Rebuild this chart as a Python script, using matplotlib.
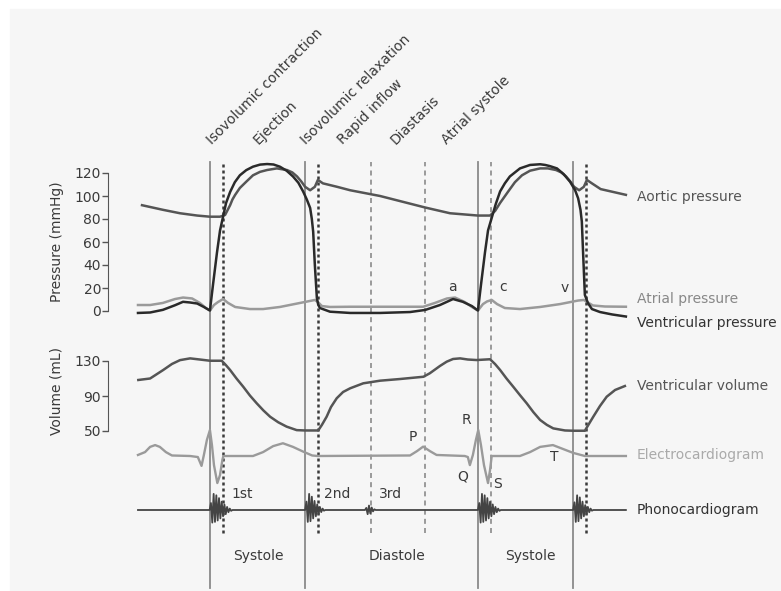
import numpy as np
import matplotlib.pyplot as plt
from matplotlib.patches import Rectangle

# время в мс, 0 = начало записи
aortic_t = [6, 68, 119, 170, 208, 238, 253, 268, 275, 283, 297, 318, 336, 357, 378, 407, 437,
            453, 467, 480, 491, 506, 520, 529, 544, 586, 625, 714, 848, 922, 1005, 1041, 1056,
            1071, 1094, 1115, 1136, 1160, 1190, 1213, 1237, 1253, 1267, 1280, 1291, 1306,
            1320, 1329, 1344, 1370, 1445]
aortic_p = [92, 88, 85, 83, 82, 82, 83.5, 92, 97, 101, 107, 113, 118, 121, 122.6, 124, 122.6,
            120.5, 117, 112.5, 108, 105, 108, 114, 111, 108, 105, 100, 90, 85, 83, 83, 87,
            94, 103.5, 112, 118, 122, 124, 124, 122.6, 120.5, 117, 112.5, 108, 105,
            108, 114, 111, 106, 101]

vent_t = [-6, 30, 68, 104, 128, 149, 170, 190, 208, 217, 229, 238, 247, 256, 268, 282, 297,
          316, 336, 357, 378, 397, 416, 436, 455, 471, 485, 496, 506, 511, 515, 520, 526, 530,
          535, 565, 625, 714, 803, 848, 892, 931, 960, 987, 1005, 1014, 1026, 1035, 1046,
          1058, 1071, 1085, 1100, 1130, 1160, 1190, 1205, 1219, 1240, 1260, 1279, 1294, 1303,
          1310, 1314, 1318, 1323, 1332, 1344, 1368, 1404, 1445]
vent_p = [-1.7, -1.3, 1, 5, 8, 7.4, 6.5, 3.5, 0.4, 22.6, 51, 70, 82, 94, 103.5, 112, 118,
          122.5, 125.5, 127.3, 127.8, 127.4, 125.5, 122, 117, 111.5, 104, 97, 89.6, 80, 69, 40,
          11.3, 5.5, 2.6, -0.6, -1.7, -1.7, -0.9, 0.9, 5.2, 10.4, 8, 4.3, 0.4, 22.6, 51, 70,
          81, 93, 104, 111, 117, 124, 127, 127.6, 127, 126, 124, 119, 112.4, 105, 98,
          88, 77.7, 48.7, 14, 7, 1.7, -0.9, -3, -4.8]

atrial_t = [-6, 30, 68, 104, 128, 155, 178, 196, 208, 220, 232, 247, 262, 283, 327, 366, 416,
            476, 520, 529, 541, 565, 625, 714, 842, 877, 913, 937, 966, 987, 1005, 1020, 1032,
            1046, 1062, 1085, 1130, 1190, 1249, 1303, 1320, 1332, 1347, 1383, 1445]
atrial_p = [5.2, 5.2, 7, 10.4, 11.7, 10.9, 7, 2.6, 0.4, 5.2, 7.8, 10.4, 7, 3.5, 1.7, 1.7, 3.5,
            7, 9.6, 7.8, 4.3, 3.5, 3.7, 3.7, 3.7, 7, 10.9, 11.7, 7.8, 3.5, 0.4, 6, 8.3,
            9.6, 6, 2.6, 1.7, 3.5, 6, 9.1, 9.6, 7.4, 4.8, 3.9, 3.7]

volume_t = [-5, 30, 69, 95, 119, 149, 178, 208, 243, 255, 268, 287, 307, 327, 347, 367, 387,
            411, 436, 466, 491, 530, 541, 555, 568, 585, 604, 625, 664, 714, 773, 843, 862,
            892, 912, 931, 952, 975, 1001, 1041, 1056, 1071, 1090, 1110, 1130, 1150, 1170,
            1190, 1210, 1229, 1264, 1289, 1323, 1335, 1348, 1368, 1388, 1413, 1442]
volume_ml = [108.3, 110, 119.7, 126.6, 131, 133, 131.7, 130.3, 130.3, 125.5, 119.7, 110,
             100.6, 90.5, 81.7, 73.5, 66.3, 60, 55, 51, 50.6, 50.6, 57, 66.3, 77.4, 87.4, 94.6,
             98.8, 104.5, 107.5, 109.4, 112, 116, 124.3, 129.2, 132.3, 133, 131.7, 131.1, 132,
             126.5, 119.7, 110, 100.6, 91, 81.7, 71.5, 62.6, 57, 53, 50.6, 50.3, 50.3, 58,
             66.3, 78.6, 89.2, 96.9, 101.4]

ecg_t = [-6, 15, 30, 45, 59, 77, 95, 149, 172, 183, 190, 199, 208, 214, 220, 230, 238, 245,
         248, 336, 366, 396, 425, 455, 485, 512, 529, 803, 824, 842, 862, 882, 966, 975, 981,
         990, 999, 1006, 1014, 1023, 1035, 1041, 1046, 1130, 1160, 1190, 1228, 1258, 1288,
         1323, 1445]
ecg_mv = [0.04, 0.15, 0.35, 0.42, 0.35, 0.15, 0.02, 0, -0.04, -0.38, 0.04, 0.62, 1.0, 0.42,
          -0.35, -1.04, -0.73, -0.15, 0, 0, 0.15, 0.38, 0.49, 0.35, 0.17, 0.02, 0, 0.02, 0.19,
          0.36, 0.19, 0.04, 0, -0.04, -0.35, 0.04, 0.62, 1.0, 0.42, -0.35, -1.04, -0.54, 0, 0,
          0.15, 0.35, 0.42, 0.27, 0.12, 0, 0]

# тоны сердца: начало и отсчёты через 4 мс
sound_start = [207, 491, 669, 1005, 1288]
sound_bursts = [
    [0, 0.5, -0.9, 1.15, -0.85, 1.05, -0.75, 0.85, -0.6, 0.6, -0.45, 0.4, -0.3, 0.22, -0.16, 0.1, -0.06, 0],
    [0, 0.6, -0.85, 1.15, -0.8, 0.95, -0.6, 0.65, -0.45, 0.4, -0.3, 0.22, -0.15, 0.1, -0.05, 0],
    [0, 0.15, -0.3, 0.32, -0.25, 0.18, -0.1, 0.05, 0],
    [0, 0.5, -0.9, 1.15, -0.85, 1.05, -0.75, 0.85, -0.6, 0.6, -0.45, 0.4, -0.3, 0.22, -0.16, 0.1, -0.06, 0],
    [0, 0.55, -0.85, 1.05, -0.8, 0.9, -0.6, 0.6, -0.45, 0.35, -0.3, 0.22, -0.16, 0.1, -0.05, 0],
]
sound_range = (-6, 1445)

solid_events = [207, 491, 1005, 1288]
dark_dotted = [247, 529, 1326]
light_dashed = [687, 848, 1044]

phases = ["Isovolumic contraction", "Ejection", "Isovolumic relaxation",
          "Rapid inflow", "Diastasis", "Atrial systole"]
phase_t = [214, 351, 493, 604, 759, 912]

W, H = 781, 591
PX_PER_MS = 0.33625
X0 = 140
LEFT, RIGHT = 108, 630
XLIM = ((LEFT - X0) / PX_PER_MS, (RIGHT - X0) / PX_PER_MS)
LABEL_T = (637 - X0) / PX_PER_MS

fig = plt.figure(figsize=(W / 100, H / 100), dpi=100)
fig.patch.set_facecolor('white')
fig.patches.append(Rectangle((10 / W, 0), 1, 1 - 9 / H, transform=fig.transFigure,
                             color='#f6f6f6', zorder=-10))


def add_axes_px(top, bottom):
    ax = fig.add_axes([LEFT / W, 1 - bottom / H, (RIGHT - LEFT) / W, (bottom - top) / H])
    ax.set_facecolor('none')
    ax.set_xlim(*XLIM)
    return ax


txt = dict(fontsize=10, color='#3a3a3a')

# фон: вертикальные линии и подписи фаз
ax_bg = add_axes_px(0, H)
ax_bg.set_ylim(0, 1)
ax_bg.axis('off')
for t in solid_events:
    ax_bg.axvline(t, ymin=1 - 588 / H, ymax=1 - 162 / H, color='#8a8a8a', lw=1.3)
for t in dark_dotted:
    ax_bg.axvline(t, ymin=1 - 533 / H, ymax=1 - 162 / H, color='#3a3a3a', lw=1.8,
                  ls=(0, (1.2, 1.2)))
for t in light_dashed:
    ax_bg.axvline(t, ymin=1 - 533 / H, ymax=1 - 162 / H, color='#8a8a8a', lw=1.2,
                  ls=(0, (3, 2.5)))
for name, t in zip(phases, phase_t):
    ax_bg.text(t, 1 - 145 / H, name, rotation=45, rotation_mode='anchor',
               ha='left', va='baseline', **txt)
for name, px in [("Systole", 258), ("Diastole", 397), ("Systole", 530)]:
    ax_bg.text((px - X0) / PX_PER_MS, 1 - 556 / H, name, ha='center', va='center', **txt)

# давление
ax_p = add_axes_px(150, 330)
ax_p.set_ylim(-(330 - 311) / 1.15, (311 - 150) / 1.15)
ax_p.plot(atrial_t, atrial_p, color='#9a9a9a', lw=1.8)
ax_p.plot(aortic_t, aortic_p, color='#555', lw=1.8)
ax_p.plot(vent_t, vent_p, color='#2a2a2a', lw=1.8)
ax_p.set_yticks([0, 20, 40, 60, 80, 100, 120])
ax_p.set_ylabel("Pressure (mmHg)", **txt)
ax_p.yaxis.set_label_coords((64 - LEFT) / (RIGHT - LEFT), (330 - 242) / 180)
ax_p.text(928, 21, "a", ha='center', va='center', **txt)
ax_p.text(1079, 21, "c", ha='center', va='center', **txt)
ax_p.text(1264, 20, "v", ha='center', va='center', **txt)
ax_p.text(LABEL_T, 99, "Aortic pressure", va='center', fontsize=10, color='#555')
ax_p.text(LABEL_T, 10.4, "Atrial pressure", va='center', fontsize=10, color='#888')
ax_p.text(LABEL_T, -10.4, "Ventricular pressure", va='center', fontsize=10, color='#333')

# объём
ax_v = add_axes_px(340, 440)
ax_v.set_ylim(130 - (440 - 361) / 0.875, 130 + (361 - 340) / 0.875)
ax_v.plot(volume_t, volume_ml, color='#555', lw=1.8)
ax_v.set_yticks([50, 90, 130])
ax_v.set_ylabel("Volume (mL)", **txt)
ax_v.yaxis.set_label_coords((64 - LEFT) / (RIGHT - LEFT), (440 - 391) / 100)
ax_v.text(LABEL_T, 101.4, "Ventricular volume", va='center', fontsize=10, color='#555')

for ax, lo, hi in [(ax_p, 0, 120), (ax_v, 50, 130)]:
    for side in ['top', 'right', 'bottom']:
        ax.spines[side].set_visible(False)
    ax.spines['left'].set_bounds(lo, hi)
    ax.spines['left'].set_color('#555')
    ax.tick_params(axis='y', length=4, width=1, color='#555', pad=1, labelsize=10,
                   labelcolor='#3a3a3a')
    ax.set_xticks([])

# ЭКГ
ax_e = add_axes_px(415, 495)
ax_e.set_ylim(-(495 - 456) / 26, (456 - 415) / 26)
ax_e.axis('off')
ax_e.plot(ecg_t, ecg_mv, color='#9a9a9a', lw=1.7)
for s, t, y in [("P", 812, 0.73), ("R", 972, 1.38), ("Q", 960, -0.8),
                ("S", 1062, -1.08), ("T", 1231, -0.04)]:
    ax_e.text(t, y, s, ha='center', va='center', **txt)
ax_e.text(LABEL_T, 0.04, "Electrocardiogram", va='center', fontsize=10, color='#aaa')

# фонокардиограмма
ax_s = add_axes_px(485, 535)
ax_s.set_ylim(-25 / 14, 25 / 14)
ax_s.axis('off')
snd_t, snd_a = [sound_range[0]], [0]
for start, burst in zip(sound_start, sound_bursts):
    snd_t += list(start + 4 * np.arange(len(burst)))
    snd_a += burst
snd_t.append(sound_range[1])
snd_a.append(0)
ax_s.plot(snd_t, snd_a, color='#444', lw=1.3)
for s, px in [("1st", 242), ("2nd", 337), ("3rd", 390)]:
    ax_s.text((px - X0) / PX_PER_MS, 16 / 14, s, ha='center', va='center', **txt)
ax_s.text(LABEL_T, 0, "Phonocardiogram", va='center', fontsize=10, color='#333')

fig.savefig('out.png', dpi=100)
